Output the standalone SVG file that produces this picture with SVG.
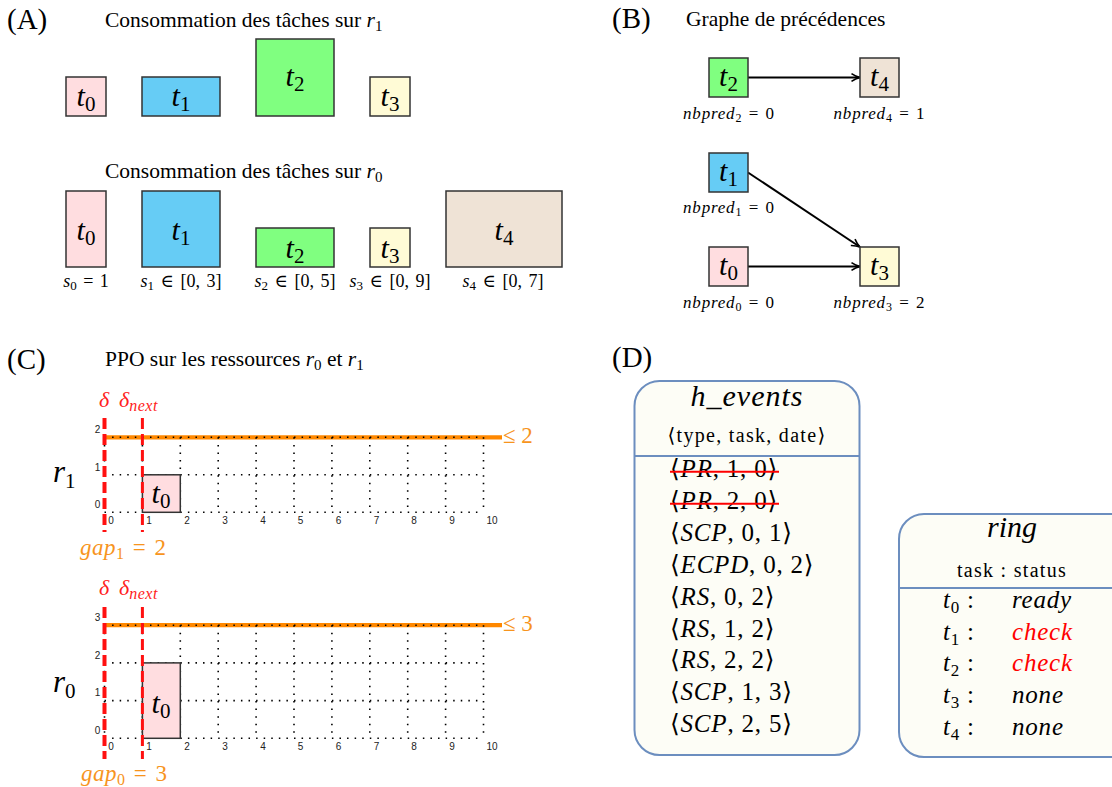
<svg xmlns="http://www.w3.org/2000/svg" width="1112" height="787" viewBox="0 0 1112 787">
<style>
text{font-family:"Liberation Serif","DejaVu Serif",serif;fill:#000}
.lbl{font-size:29px}
.ttl{font-size:21.5px}
.i{font-style:italic}
.tk{font-size:30px;text-anchor:middle}
.cap{font-size:18px;text-anchor:middle;word-spacing:2px}
.nb{font-size:17px;text-anchor:middle;word-spacing:3px}
.nb .i{letter-spacing:0.8px}
.box{stroke:#333;stroke-width:1.5}
.c0{fill:#ffdde0}.c1{fill:#66ccf5}.c2{fill:#80ff80}.c3{fill:#fffbd6}.c4{fill:#efe3d6}
.tick{font-family:"Liberation Sans","DejaVu Sans",sans-serif;font-size:10px;text-anchor:middle;fill:#222}
.grid{fill:none;stroke:#000;stroke-width:1.6;stroke-dasharray:1.5 6.08}
.org{stroke:#ff8800;stroke-width:4.3}
.otx{fill:#f7941d}
.red{stroke:#ff1010;fill:none}
.rtx{fill:#ff2020;font-size:22px;font-style:italic}
.panel{fill:#fdfdf6;stroke:#6c8ebf;stroke-width:2}
.row{font-size:25px;letter-spacing:0.8px}
.hdr{font-size:20px;text-anchor:middle;letter-spacing:1.3px}
.edge{stroke:#000;stroke-width:2;fill:none;marker-end:url(#arr)}
</style>
<defs>
<marker id="arr" viewBox="0 0 10 10" refX="9.5" refY="5" markerWidth="10" markerHeight="10" markerUnits="userSpaceOnUse" orient="auto">
<path d="M1,1.2 Q5,4 9.5,5 Q5,6 1,8.8" fill="none" stroke="#000" stroke-width="1.6"/>
</marker>
</defs>

<!-- Panel A -->
<g id="panelA">
<text class="lbl" x="7" y="29">(A)</text>
<text class="ttl" x="105" y="27">Consommation des tâches sur <tspan class="i">r</tspan><tspan font-size="15px" dy="4">1</tspan></text>
<text class="ttl" x="105" y="178">Consommation des tâches sur <tspan class="i">r</tspan><tspan font-size="15px" dy="4">0</tspan></text>
</g>
<g id="A_r1_t0"><rect class="box c0" x="66" y="77" width="40" height="39"/><text class="tk" x="86" y="106"><tspan class="i">t</tspan><tspan font-size="21px" dy="5">0</tspan></text></g>
<g id="A_r1_t1"><rect class="box c1" x="142" y="77" width="78" height="39"/><text class="tk" x="181" y="106"><tspan class="i">t</tspan><tspan font-size="21px" dy="5">1</tspan></text></g>
<g id="A_r1_t2"><rect class="box c2" x="256" y="39" width="78" height="77"/><text class="tk" x="295" y="86"><tspan class="i">t</tspan><tspan font-size="21px" dy="5">2</tspan></text></g>
<g id="A_r1_t3"><rect class="box c3" x="370" y="77" width="40" height="39"/><text class="tk" x="390" y="106"><tspan class="i">t</tspan><tspan font-size="21px" dy="5">3</tspan></text></g>

<g id="A_r0_t0"><rect class="box c0" x="66" y="191" width="40" height="76"/><text class="tk" x="86" y="240"><tspan class="i">t</tspan><tspan font-size="21px" dy="5">0</tspan></text>
<text class="cap" x="86" y="287"><tspan class="i">s</tspan><tspan font-size="13px" dy="3">0</tspan><tspan dy="-3"> = 1</tspan></text></g>
<g id="A_r0_t1"><rect class="box c1" x="142" y="191" width="78" height="76"/><text class="tk" x="181" y="240"><tspan class="i">t</tspan><tspan font-size="21px" dy="5">1</tspan></text>
<text class="cap" x="181" y="287"><tspan class="i">s</tspan><tspan font-size="13px" dy="3">1</tspan><tspan dy="-3"> ∈ [0, 3]</tspan></text></g>
<g id="A_r0_t2"><rect class="box c2" x="256" y="228" width="78" height="39"/><text class="tk" x="295" y="258"><tspan class="i">t</tspan><tspan font-size="21px" dy="5">2</tspan></text>
<text class="cap" x="295" y="287"><tspan class="i">s</tspan><tspan font-size="13px" dy="3">2</tspan><tspan dy="-3"> ∈ [0, 5]</tspan></text></g>
<g id="A_r0_t3"><rect class="box c3" x="370" y="228" width="40" height="39"/><text class="tk" x="390" y="258"><tspan class="i">t</tspan><tspan font-size="21px" dy="5">3</tspan></text>
<text class="cap" x="390" y="287"><tspan class="i">s</tspan><tspan font-size="13px" dy="3">3</tspan><tspan dy="-3"> ∈ [0, 9]</tspan></text></g>
<g id="A_r0_t4"><rect class="box c4" x="446" y="191" width="116" height="76"/><text class="tk" x="504" y="240"><tspan class="i">t</tspan><tspan font-size="21px" dy="5">4</tspan></text>
<text class="cap" x="503" y="287"><tspan class="i">s</tspan><tspan font-size="13px" dy="3">4</tspan><tspan dy="-3"> ∈ [0, 7]</tspan></text></g>

<!-- Panel B -->
<g id="panelB">
<text class="lbl" x="612" y="28">(B)</text>
<text class="ttl" x="686" y="26">Graphe de précédences</text>
</g>
<g id="connectors">
<line class="edge" x1="748" y1="77.5" x2="860" y2="77.5"/>
<line class="edge" x1="748" y1="172.5" x2="860" y2="247"/>
<line class="edge" x1="748" y1="266.5" x2="860" y2="266.5"/>
</g>
<g id="B_t2"><rect class="box c2" x="709" y="58" width="39" height="39"/><text class="tk" x="728.5" y="86"><tspan class="i">t</tspan><tspan font-size="21px" dy="5">2</tspan></text>
<text class="nb" x="728.5" y="119"><tspan class="i">nbpred</tspan><tspan font-size="12px" dy="3">2</tspan><tspan dy="-3"> = 0</tspan></text></g>
<g id="B_t4"><rect class="box c4" x="860" y="58" width="39" height="39"/><text class="tk" x="879.5" y="86"><tspan class="i">t</tspan><tspan font-size="21px" dy="5">4</tspan></text>
<text class="nb" x="879" y="119"><tspan class="i">nbpred</tspan><tspan font-size="12px" dy="3">4</tspan><tspan dy="-3"> = 1</tspan></text></g>
<g id="B_t1"><rect class="box c1" x="709" y="153" width="39" height="39"/><text class="tk" x="728.5" y="181"><tspan class="i">t</tspan><tspan font-size="21px" dy="5">1</tspan></text>
<text class="nb" x="728.5" y="213"><tspan class="i">nbpred</tspan><tspan font-size="12px" dy="3">1</tspan><tspan dy="-3"> = 0</tspan></text></g>
<g id="B_t0"><rect class="box c0" x="709" y="247" width="39" height="39"/><text class="tk" x="728.5" y="275"><tspan class="i">t</tspan><tspan font-size="21px" dy="5">0</tspan></text>
<text class="nb" x="728.5" y="308"><tspan class="i">nbpred</tspan><tspan font-size="12px" dy="3">0</tspan><tspan dy="-3"> = 0</tspan></text></g>
<g id="B_t3"><rect class="box c3" x="860" y="247" width="39" height="39"/><text class="tk" x="879.5" y="275"><tspan class="i">t</tspan><tspan font-size="21px" dy="5">3</tspan></text>
<text class="nb" x="879" y="308"><tspan class="i">nbpred</tspan><tspan font-size="12px" dy="3">3</tspan><tspan dy="-3"> = 2</tspan></text></g>

<!-- Panel C -->
<g id="panelC">
<text class="lbl" x="7" y="369">(C)</text>
<text class="ttl" x="105" y="366">PPO sur les ressources <tspan class="i">r</tspan><tspan font-size="15px" dy="4">0</tspan><tspan dy="-4"> et </tspan><tspan class="i">r</tspan><tspan font-size="15px" dy="4">1</tspan></text>
</g>

<g id="C_r1">
<text x="53" y="482" font-size="31px"><tspan class="i">r</tspan><tspan font-size="21px" dy="6">1</tspan></text>
<line class="org" x1="104.5" y1="437.3" x2="502" y2="437.3"/>
<path class="grid" d="M104.5,512.3H483.5M104.5,474.8H483.5M104.5,437.3H483.5M104.5,437.3V512.3M142.4,437.3V512.3M180.3,437.3V512.3M218.2,437.3V512.3M256.1,437.3V512.3M294,437.3V512.3M331.9,437.3V512.3M369.8,437.3V512.3M407.7,437.3V512.3M445.6,437.3V512.3M483.5,437.3V512.3"/>
<text class="tick" x="97.5" y="433">2</text><text class="tick" x="97.5" y="470.5">1</text><text class="tick" x="97.5" y="508">0</text>
<text class="tick" x="111" y="523.5">0</text><text class="tick" x="149" y="523.5">1</text><text class="tick" x="187" y="523.5">2</text><text class="tick" x="225" y="523.5">3</text><text class="tick" x="263" y="523.5">4</text><text class="tick" x="300.5" y="523.5">5</text><text class="tick" x="338.5" y="523.5">6</text><text class="tick" x="376.5" y="523.5">7</text><text class="tick" x="414" y="523.5">8</text><text class="tick" x="452" y="523.5">9</text><text class="tick" x="492" y="523.5">10</text>
<rect class="box c0" x="142.4" y="474.8" width="37.9" height="37.5" stroke="#000"/>
<text class="tk" x="161" y="503"><tspan class="i">t</tspan><tspan font-size="21px" dy="5">0</tspan></text>
<line class="red" x1="104.5" y1="418" x2="104.5" y2="532" stroke-width="4" stroke-dasharray="11 5"/>
<line class="red" x1="142.4" y1="418" x2="142.4" y2="532" stroke-width="3" stroke-dasharray="11 5"/>
<text class="rtx" x="104" y="406.5" text-anchor="middle">δ</text>
<text class="rtx" x="119" y="406.5">δ<tspan font-size="16px" dy="4" letter-spacing="0.5px">next</tspan></text>
<text class="otx" x="503" y="443" font-size="23px">≤ 2</text>
<text class="otx" x="80" y="555" font-size="23px" word-spacing="3px"><tspan class="i" letter-spacing="0.5px">gap</tspan><tspan font-size="16px" dy="4">1</tspan><tspan dy="-4"> = 2</tspan></text>
</g>

<g id="C_r0">
<text x="53" y="692" font-size="31px"><tspan class="i">r</tspan><tspan font-size="21px" dy="6">0</tspan></text>
<line class="org" x1="104.5" y1="625.2" x2="502" y2="625.2"/>
<path class="grid" d="M104.5,738.3H483.5M104.5,700.6H483.5M104.5,662.9H483.5M104.5,625.2H483.5M104.5,625.2V738.3M142.4,625.2V738.3M180.3,625.2V738.3M218.2,625.2V738.3M256.1,625.2V738.3M294,625.2V738.3M331.9,625.2V738.3M369.8,625.2V738.3M407.7,625.2V738.3M445.6,625.2V738.3M483.5,625.2V738.3"/>
<text class="tick" x="97.5" y="621">3</text><text class="tick" x="97.5" y="658.5">2</text><text class="tick" x="97.5" y="696">1</text><text class="tick" x="97.5" y="734">0</text>
<text class="tick" x="111" y="750">0</text><text class="tick" x="149" y="750">1</text><text class="tick" x="187" y="750">2</text><text class="tick" x="225" y="750">3</text><text class="tick" x="263" y="750">4</text><text class="tick" x="300.5" y="750">5</text><text class="tick" x="338.5" y="750">6</text><text class="tick" x="376.5" y="750">7</text><text class="tick" x="414" y="750">8</text><text class="tick" x="452" y="750">9</text><text class="tick" x="492" y="750">10</text>
<rect class="box c0" x="142.4" y="662.9" width="37.9" height="75.4" stroke="#000"/>
<text class="tk" x="161" y="713"><tspan class="i">t</tspan><tspan font-size="21px" dy="5">0</tspan></text>
<line class="red" x1="104.5" y1="607" x2="104.5" y2="759" stroke-width="4" stroke-dasharray="11 5"/>
<line class="red" x1="142.4" y1="607" x2="142.4" y2="759" stroke-width="3" stroke-dasharray="11 5"/>
<text class="rtx" x="104" y="595" text-anchor="middle">δ</text>
<text class="rtx" x="119" y="595">δ<tspan font-size="16px" dy="4" letter-spacing="0.5px">next</tspan></text>
<text class="otx" x="503" y="631" font-size="23px">≤ 3</text>
<text class="otx" x="81" y="781" font-size="23px" word-spacing="3px"><tspan class="i" letter-spacing="0.5px">gap</tspan><tspan font-size="16px" dy="4">0</tspan><tspan dy="-4"> = 3</tspan></text>
</g>

<!-- Panel D -->
<g id="panelD">
<text class="lbl" x="612" y="367">(D)</text>
</g>
<g id="h_events">
<rect class="panel" x="634.5" y="381" width="225" height="374" rx="25"/>
<line x1="634.5" y1="456" x2="859.5" y2="456" stroke="#6c8ebf" stroke-width="2"/>
<text x="747" y="406" font-size="30px" text-anchor="middle" class="i" letter-spacing="1px">h_events</text>
<text class="hdr" x="747" y="442">⟨type, task, date⟩</text>
<text class="row" x="670" y="477">⟨<tspan class="i">PR</tspan>, 1, 0⟩</text>
<text class="row" x="670" y="509">⟨<tspan class="i">PR</tspan>, 2, 0⟩</text>
<line x1="670" y1="471.7" x2="779" y2="471.7" stroke="#ff0000" stroke-width="2"/>
<line x1="670" y1="503.7" x2="779" y2="503.7" stroke="#ff0000" stroke-width="2"/>
<text class="row" x="670" y="541">⟨<tspan class="i">SCP</tspan>, 0, 1⟩</text>
<text class="row" x="670" y="573">⟨<tspan class="i">ECPD</tspan>, 0, 2⟩</text>
<text class="row" x="670" y="605">⟨<tspan class="i">RS</tspan>, 0, 2⟩</text>
<text class="row" x="670" y="637">⟨<tspan class="i">RS</tspan>, 1, 2⟩</text>
<text class="row" x="670" y="668">⟨<tspan class="i">RS</tspan>, 2, 2⟩</text>
<text class="row" x="670" y="700">⟨<tspan class="i">SCP</tspan>, 1, 3⟩</text>
<text class="row" x="670" y="732">⟨<tspan class="i">SCP</tspan>, 2, 5⟩</text>
</g>
<g id="ring">
<rect class="panel" x="899" y="514" width="240" height="243" rx="25"/>
<line x1="899" y1="588" x2="1112" y2="588" stroke="#6c8ebf" stroke-width="2"/>
<text x="1012" y="537" font-size="30px" text-anchor="middle" class="i">ring</text>
<text class="hdr" x="1012" y="577">task : status</text>
<text class="row" x="943" y="608"><tspan class="i">t</tspan><tspan font-size="17px" dy="5">0</tspan><tspan dy="-5"> :</tspan></text>
<text class="row i" x="1012" y="608">ready</text>
<text class="row" x="943" y="640"><tspan class="i">t</tspan><tspan font-size="17px" dy="5">1</tspan><tspan dy="-5"> :</tspan></text>
<text class="row i" x="1012" y="640" style="fill:#ff0000">check</text>
<text class="row" x="943" y="671"><tspan class="i">t</tspan><tspan font-size="17px" dy="5">2</tspan><tspan dy="-5"> :</tspan></text>
<text class="row i" x="1012" y="671" style="fill:#ff0000">check</text>
<text class="row" x="943" y="703"><tspan class="i">t</tspan><tspan font-size="17px" dy="5">3</tspan><tspan dy="-5"> :</tspan></text>
<text class="row i" x="1012" y="703">none</text>
<text class="row" x="943" y="735"><tspan class="i">t</tspan><tspan font-size="17px" dy="5">4</tspan><tspan dy="-5"> :</tspan></text>
<text class="row i" x="1012" y="735">none</text>
</g>
</svg>
